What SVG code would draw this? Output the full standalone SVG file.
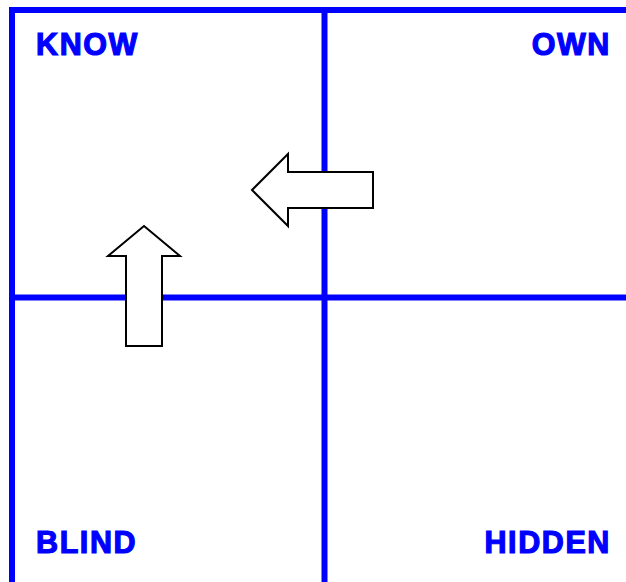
<svg xmlns="http://www.w3.org/2000/svg" width="626" height="582" viewBox="0 0 626 582">
<style>
.grid{stroke:#0000ff;stroke-width:6;fill:none}
.lbl{font-family:"Liberation Sans",Arial,sans-serif;font-weight:bold;font-size:30.5px;fill:#0000ff;stroke:#0000ff;stroke-width:1.2px;letter-spacing:1.6px}
.arrow{fill:#ffffff;stroke:#000000;stroke-width:2;stroke-linejoin:miter}
</style>
<g id="connectors">
<line class="grid" x1="9" y1="10" x2="626" y2="10"/>
<line class="grid" x1="12" y1="7" x2="12" y2="582"/>
<line class="grid" x1="324.5" y1="10" x2="324.5" y2="582"/>
<line class="grid" x1="12" y1="297.5" x2="626" y2="297.5"/>
</g>
<g id="know"><text class="lbl" x="36" y="54.5">KNOW</text></g>
<g id="own"><text class="lbl" x="611" y="54.5" text-anchor="end">OWN</text></g>
<g id="blind"><text class="lbl" x="36" y="552.5">BLIND</text></g>
<g id="hidden"><text class="lbl" x="611" y="552.5" text-anchor="end">HIDDEN</text></g>
<g id="arrow-left"><polygon class="arrow" points="252,190 288,154 288,172 373,172 373,208 288,208 288,226"/></g>
<g id="arrow-up"><polygon class="arrow" points="144,226 180,256 162,256 162,346 126,346 126,256 108,256"/></g>
</svg>
